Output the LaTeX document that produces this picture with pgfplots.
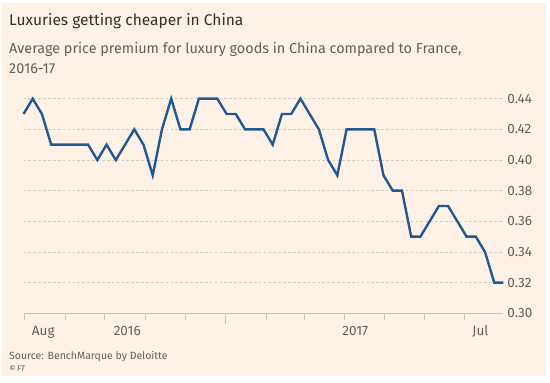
\documentclass[border=0pt]{standalone}
\usepackage{fontspec}
\setmainfont{Fira Sans}
\usepackage{pgfplots}
\pgfplotsset{compat=1.18}
\definecolor{bg}{HTML}{FFF1E5}
\definecolor{titlec}{HTML}{33302E}
\definecolor{subc}{HTML}{66605C}
\definecolor{gridc}{HTML}{D6CBC1}
\definecolor{axisc}{HTML}{CCC1B7}
\definecolor{linec}{HTML}{1F5A96}
\begin{document}
\begin{tikzpicture}
\useasboundingbox (0pt,0pt) rectangle (550pt,383pt);
\fill[white] (0pt,0pt) rectangle (550pt,383pt);
\fill[bg] (2pt,7pt) rectangle (546pt,380pt);
\node[anchor=base west, inner sep=0pt, text=titlec, font=\fontsize{15.5}{18}\selectfont] at (9pt,357pt) {Luxuries getting cheaper in China};
\node[anchor=base west, inner sep=0pt, text=subc, font=\fontsize{14.4}{17}\selectfont] at (9pt,329.7pt) {Average price premium for luxury goods in China compared to France,};
\node[anchor=base west, inner sep=0pt, text=subc, font=\fontsize{14.4}{17}\selectfont] at (9pt,309pt) {2016-17};
\node[anchor=base west, inner sep=0pt, text=subc, font=\fontsize{10.5}{12}\selectfont] at (9pt,23.7pt) {Source: BenchMarque by Deloitte};
\node[anchor=base west, inner sep=0pt, text=subc, font=\fontsize{8}{10}\selectfont\itshape] at (9pt,11.3pt) {\textcopyright\,FT};
\begin{axis}[
  at={(23.5pt,69.7pt)}, anchor=south west,
  scale only axis, width=480pt, height=214.6pt,
  xmin=0, xmax=52, ymin=0.30, ymax=0.44,
  clip=false,
  axis x line*=bottom, axis y line*=right,
  x axis line style={-, color=axisc, line width=0.9pt},
  y axis line style={draw=none},
  ytick={0.30,0.32,0.34,0.36,0.38,0.40,0.42,0.44},
  yticklabels={0.30,0.32,0.34,0.36,0.38,0.40,0.42,0.44},
  ymajorgrids,
  grid style={gridc, line width=0.9pt, dash pattern=on 2.7pt off 2.2pt},
  ytick style={draw=none},
  yticklabel style={anchor=west, inner sep=0pt, xshift=3.8pt, text=subc, font=\fontsize{13.5}{14}\selectfont},
  xtick={2.144,11.24,35.95,49.5},
  xticklabels={Aug,2016,2017,Jul},
  xticklabel style={anchor=base, yshift=-22.7pt, text=subc, font=\fontsize{13.5}{14}\selectfont},
  minor xtick={0.05,4.494,8.771,13.233,17.543,26.336,30.407,34.782,39.114,43.478,47.81},
  extra x ticks={21.896}, extra x tick labels={},
  extra x tick style={major tick length=10.5pt},
  tick align=outside,
  major tick length=0pt, minor tick length=6.5pt,
  tick style={color=axisc, line width=0.9pt},
]
\addplot[linec, line width=2.4pt, mark=none] coordinates {
(0,0.43)(1,0.44)(2,0.43)(3,0.41)(4,0.41)(5,0.41)(6,0.41)(7,0.41)(8,0.40)(9,0.41)
(10,0.40)(11,0.41)(12,0.42)(13,0.41)(14,0.39)(15,0.42)(16,0.44)(17,0.42)(18,0.42)(19,0.44)
(20,0.44)(21,0.44)(22,0.43)(23,0.43)(24,0.42)(25,0.42)(26,0.42)(27,0.41)(28,0.43)(29,0.43)
(30,0.44)(31,0.43)(32,0.42)(33,0.40)(34,0.39)(35,0.42)(36,0.42)(37,0.42)(38,0.42)(39,0.39)
(40,0.38)(41,0.38)(42,0.35)(43,0.35)(44,0.36)(45,0.37)(46,0.37)(47,0.36)(48,0.35)(49,0.35)
(50,0.34)(51,0.32)(52,0.32)
};
\end{axis}
\end{tikzpicture}
\end{document}
